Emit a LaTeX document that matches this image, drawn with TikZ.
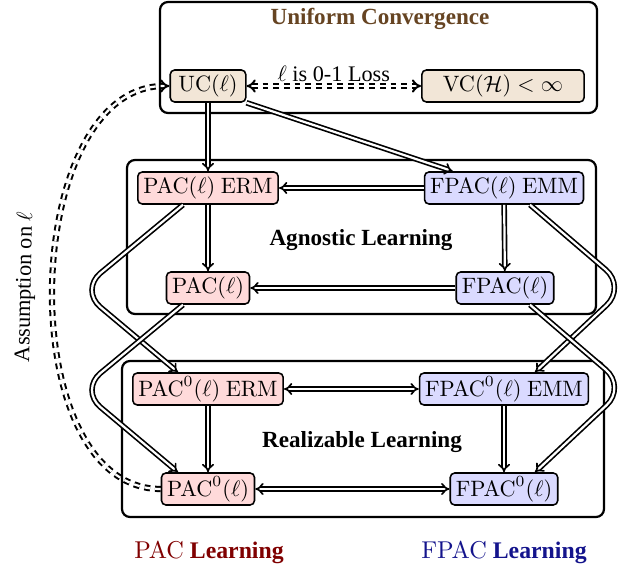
\documentclass[tikz,border=0pt]{standalone}
\usepackage[no-math]{fontspec}
\setmainfont{Liberation Serif}
\usepackage{tikz}
\definecolor{ucbrown}{RGB}{102,68,34}
\definecolor{ucfill}{RGB}{242,230,215}
\definecolor{pacfill}{RGB}{255,218,218}
\definecolor{fpacfill}{RGB}{218,218,255}
\definecolor{pacred}{RGB}{128,0,0}
\definecolor{fpacblue}{RGB}{20,20,140}
\usetikzlibrary{arrows.meta}
\usetikzlibrary{calc}
\tikzset{group/.style={draw,line width=1pt,rounded corners=3.6pt}}
\tikzset{grouptitle/.style={font=\bfseries\fontsize{10.4}{12}\selectfont}}
\tikzset{legend/.style={font=\fontsize{10.7}{12}\selectfont}}
\tikzset{box/.style={draw,line width=0.7pt,rounded corners=2pt,minimum height=14.4pt,inner xsep=2.5pt,inner ysep=1pt}}
\tikzset{ucbox/.style={box,fill=ucfill}}
\tikzset{pacbox/.style={box,fill=pacfill}}
\tikzset{fpacbox/.style={box,fill=fpacfill}}
\tikzset{imp/.style={line width=0.75pt,double,double distance=1pt,-Implies}}
\tikzset{iff/.style={imp,Implies-Implies}}
\tikzset{dashimp/.style={imp,line width=0.9pt,dash pattern=on 2.6pt off 2.2pt}}
\tikzset{cross/.style={imp,rounded corners=12pt}}
\begin{document}
\begin{tikzpicture}[x=0.45pt,y=0.45pt]
  \useasboundingbox (0,0) rectangle (618,571);
  % Groups
  \draw[group] (160,458) rectangle (597,569);
  \draw[group] (127,257) rectangle (596,411);
  \draw[group] (122,54) rectangle (604,210);
  \node[grouptitle,text=ucbrown] (uctitle) at (380,552) {Uniform Convergence};
  \node[grouptitle] (agntitle) at (361,331) {Agnostic Learning};
  \node[grouptitle] (realtitle) at (362,129) {Realizable Learning};

  % Nodes
  \node[ucbox,minimum width=34pt] (UC) at (208,485) {$\mathrm{UC}(\ell)$};
  \node[ucbox,minimum width=73pt] (VC) at (503,485) {$\mathrm{VC}(\mathcal{H})<\infty$};
  \node[pacbox] (PACERM) at (208,383) {$\mathrm{PAC}(\ell)$ $\mathrm{ERM}$};
  \node[fpacbox] (FPACEMM) at (504,383) {$\mathrm{FPAC}(\ell)$ $\mathrm{EMM}$};
  \node[pacbox] (PAC) at (208,283) {$\mathrm{PAC}(\ell)$};
  \node[fpacbox] (FPAC) at (505,283) {$\mathrm{FPAC}(\ell)$};
  \node[pacbox] (PAC0ERM) at (208,182) {$\mathrm{PAC}^0(\ell)$ $\mathrm{ERM}$};
  \node[fpacbox] (FPAC0EMM) at (504,182) {$\mathrm{FPAC}^0(\ell)$ $\mathrm{EMM}$};
  \node[pacbox] (PAC0) at (208,82) {$\mathrm{PAC}^0(\ell)$};
  \node[fpacbox] (FPAC0) at (504,82) {$\mathrm{FPAC}^0(\ell)$};

  % Bottom labels
  \node[legend,text=pacred] (paclabel) at (209,18) {$\mathrm{PAC}$ \textbf{Learning}};
  \node[legend,text=fpacblue] (fpaclabel) at (504,18) {$\mathrm{FPAC}$ \textbf{Learning}};

  % Implications
  \draw[dashimp,Implies-Implies] (UC) -- node[above,inner sep=1.5pt] (losslabel) {$\ell$ is 0-1 Loss} (VC);
  \draw[imp] (UC) -- (PACERM);
  \draw[imp] (UC.south east) -- ($(FPACEMM.north west)+(29,0)$);
  \draw[imp] (FPACEMM) -- (PACERM);
  \draw[imp] (PACERM) -- (PAC);
  \draw[imp] (FPACEMM) -- (FPAC);
  \draw[imp] (FPAC) -- (PAC);
  \draw[iff] (PAC0ERM) -- (FPAC0EMM);
  \draw[imp] (PAC0ERM) -- (PAC0);
  \draw[imp] (FPAC0EMM) -- (FPAC0);
  \draw[iff] (PAC0) -- (FPAC0);

  % Agnostic to realizable
  \draw[cross] ($(PACERM.south)+(-25,0)$) -- (80,281) -- ($(PAC0ERM.north)+(-30,0)$);
  \draw[cross] ($(PAC.south)+(-25,0)$) -- (80,181) -- ($(PAC0.north)+(-30,0)$);
  \draw[cross] ($(FPACEMM.south)+(26,0)$) -- (626,284) -- ($(FPAC0EMM.north)+(31,0)$);
  \draw[cross] ($(FPAC.south)+(25,0)$) -- (626,184) -- ($(FPAC0.north)+(31,0)$);

  % Assumption
  \draw[dashimp] (PAC0.west) to[out=180,in=180,looseness=0.95] node[midway,sloped,above=4pt] (assumlabel) {Assumption on $\ell$} (UC.west);
\end{tikzpicture}
\end{document}
